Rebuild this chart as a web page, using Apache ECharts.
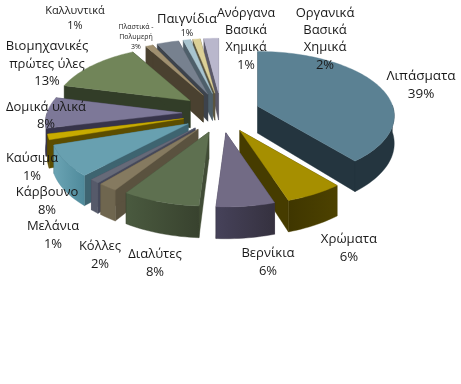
<!DOCTYPE html>
<html><head><meta charset="utf-8">
<style>html,body{margin:0;padding:0;background:#fff}#c{width:461px;height:384px}</style>
<script src="https://cdn.jsdelivr.net/npm/echarts@6/dist/echarts.min.js"></script>
</head><body><div id="c"></div>
<script>
const categories = ['Λιπάσματα','Χρώματα','Βερνίκια','Διαλύτες','Κόλλες','Μελάνια','Κάρβουνο','Καύσιμα','Δομικά υλικά','Βιομηχανικές πρώτες ύλες','Καλλυντικά','Πλαστικά - Πολυμερή','Παιγνίδια','Ανόργανα Βασικά Χημικά','Οργανικά Βασικά Χημικά'];
const values = [39,6,6,8,2,1,7.8,1.4,7.8,13,1,3,1,1,2];
const labelLines = [['Λιπάσματα'],['Χρώματα'],['Βερνίκια'],['Διαλύτες'],['Κόλλες'],['Μελάνια'],['Κάρβουνο'],['Καύσιμα'],['Δομικά υλικά'],['Βιομηχανικές','πρώτες ύλες'],['Καλλυντικά'],['Πλαστικά -','Πολυμερή'],['Παιγνίδια'],['Ανόργανα','Βασικά','Χημικά'],['Οργανικά','Βασικά','Χημικά']];

const topColors  = ['#5b8193','#a68f00','#726b85','#5e7050','#857a60','#666a78','#68a0b0','#c8ab00','#7d7898','#718559','#a09070','#77818f','#a8c4cf','#dcd097','#b9b7cc'];
const wallColors = ['#24353f','#463c00','#3c3849','#414c36','#5a523f','#45485a','#3e6470','#5c4d00','#37344a','#323d28','#4a4130','#3d434c','#4e5f6a','#5a5540','#5a5868'];
const arcLeft    = ['#24353f','#3f3600','#46425a','#4a5a3f','#6f664f','#565a6a','#6ba4b4','#5c4d00','#37344a','#323d28','#4a4130','#3d434c','#4e5f6a','#5a5540','#5a5868'];
const arcRight   = ['#24353f','#4d4200','#35313f','#38422e','#6f664f','#565a6a','#4f8a9b','#5c4d00','#37344a','#323d28','#4a4130','#3d434c','#4e5f6a','#5a5540','#5a5868'];
const labelPos = [[421,85,13.5],[349,248,13.2],[268,262,13],[155,263,13],[100,255,13],[53,235,13],[47,201,13],[32,167,13],[46,116,13],[47,64,13],[75,18,11],[136,37,7],[187,26,13],[246,39,12.5],[325,39,13]];
const pctSize = [13.5,13.2,13,13,13,13,13,13,13,13,11,7,9,12.5,13];
const lineH = [18,18,18,18,18,18,18,18,17,17.5,15,10,14,17.3,17.3];

const CX=221, CY=113, EX=39, EY=20, RX=135, RY=63, K=0.15, DEPTH=27;
const total = values.reduce((a,b)=>a+b,0);
const project = (th) => { const u=Math.sin(th), v=-Math.cos(th), s=1/(1-K*v); return [RX*u*s, RY*v*s, s, v]; };
let acc=0;
const slices = values.map((val,i)=>{
  const a0=acc/total*2*Math.PI; acc+=val; const a1=acc/total*2*Math.PI; const m=(a0+a1)/2;
  return {i,a0,a1,ax:CX+EX*Math.sin(m),ay:CY+EY*(-Math.cos(m))};
});
const drawOrder = slices.slice().sort((a,b)=>a.ay-b.ay).map(s=>s.i);

function renderItem(params, api){
  const s = slices[api.value(0)], i = s.i, kids=[];
  const n = Math.max(2, Math.ceil((s.a1-s.a0)/0.03));
  const arc=[];
  for(let j=0;j<=n;j++){ const p=project(s.a0+(s.a1-s.a0)*j/n); arc.push([s.ax+p[0], s.ay+p[1], p[2], p[3]]); }
  const poly=(pts,fill,stroke)=>({type:'polygon',shape:{points:pts},style:{fill:fill,stroke:stroke||fill,lineWidth:stroke===null?0:0.4}});
  const first=arc[0], last=arc[arc.length-1], d=DEPTH;
  kids.push(poly([[s.ax,s.ay],[first[0],first[1]],[first[0],first[1]+d*first[2]],[s.ax,s.ay+d]],wallColors[i]));
  kids.push(poly([[s.ax,s.ay],[last[0],last[1]],[last[0],last[1]+d*last[2]],[s.ax,s.ay+d]],wallColors[i]));
  const front=arc.filter(p=>p[3]>-0.02);
  if(front.length>1){
    const pts=front.map(p=>[p[0],p[1]]).concat(front.slice().reverse().map(p=>[p[0],p[1]+d*p[2]]));
    const grad={type:'linear',x:0,y:0,x2:1,y2:0,global:false,colorStops:[{offset:0,color:arcLeft[i]},{offset:1,color:arcRight[i]}]};
    kids.push(poly(pts,grad,arcRight[i]));
  }
  kids.push(poly([[s.ax,s.ay]].concat(arc.map(p=>[p[0],p[1]])),topColors[i]));
  return {type:'group',children:kids};
}

function labelItem(params, api){
  const i = api.value(0), p=labelPos[i];
  const pct = Math.round(values[i]/total*100)+'%';
  const base={fontFamily:'"Open Sans"',fill:'#1a1a1a',lineHeight:lineH[i],align:'center'};
  return {type:'text',z2:100,style:{x:p[0],y:p[1],
    text:labelLines[i].map(l=>'{n|'+l+'}').concat('{p|'+pct+'}').join('\n'),
    align:'center',verticalAlign:'middle',
    rich:{n:Object.assign({fontSize:p[2]},base),p:Object.assign({fontSize:pctSize[i]},base)}}};
}

const chart = echarts.init(document.getElementById('c'),null,{renderer:'canvas'});
chart.setOption({
  animation:false,
  backgroundColor:'#fff',
  series:[
    {type:'custom',coordinateSystem:'none',renderItem:renderItem,data:drawOrder.map(i=>[i,values[i],categories[i]]),z:1,silent:true},
    {type:'custom',coordinateSystem:'none',renderItem:labelItem,data:categories.map((c,i)=>[i,values[i],c]),z:2,silent:true}
  ]
});
</script></body></html>
